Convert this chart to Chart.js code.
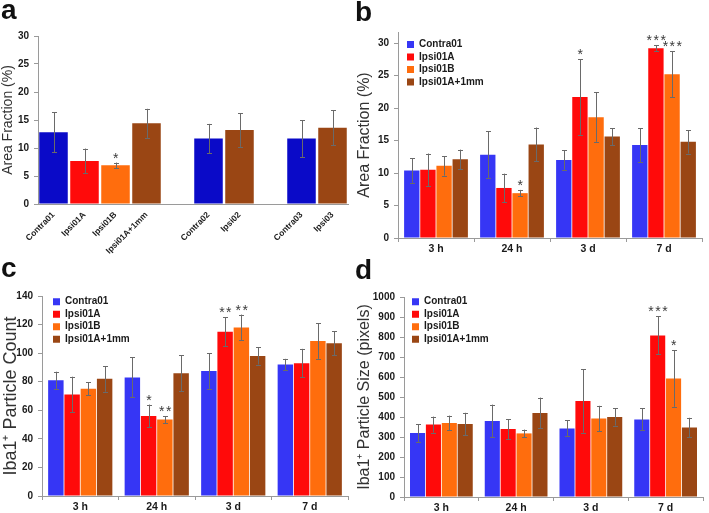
<!DOCTYPE html>
<html>
<head>
<meta charset="utf-8">
<script src="https://cdn.jsdelivr.net/npm/chart.js@4.4.1/dist/chart.umd.min.js"></script>
<style>
body { margin: 0; background: #fff; width: 709px; height: 513px; position: relative; overflow: hidden; font-family: "Liberation Sans", Arial, sans-serif; }
canvas { position: absolute; }
.letra { position: absolute; font-weight: bold; font-size: 28px; line-height: 1; color: #111; }
</style>
</head>
<body>
<canvas id="graficaA" width="355" height="255" style="left:0;top:0"></canvas>
<canvas id="graficaB" width="354" height="255" style="left:355px;top:0"></canvas>
<canvas id="graficaC" width="355" height="258" style="left:0;top:255px"></canvas>
<canvas id="graficaD" width="354" height="258" style="left:355px;top:255px"></canvas>
<div class="letra" style="left:1px;top:-4px">a</div>
<div class="letra" style="left:355px;top:-2px">b</div>
<div class="letra" style="left:1px;top:254px">c</div>
<div class="letra" style="left:355px;top:256px">d</div>
<script>
// panel a
var gruposA = ["Contra01", "Ipsi01A", "Ipsi01B", "Ipsi01A+1mm", "", "Contra02", "Ipsi02", "", "Contra03", "Ipsi03"];
var areaA = [12.8, 7.7, 6.9, 14.4, null, 11.7, 13.2, null, 11.7, 13.6];
var errA = [3.6, 2.2, 0.5, 2.6, null, 2.6, 3.0, null, 3.3, 3.1];
var estrellasA = ["", "", "*", "", "", "", "", "", "", ""];

// paneles b, c, d
var tiempos = ["3 h", "24 h", "3 d", "7 d"];
var series = ["Contra01", "Ipsi01A", "Ipsi01B", "Ipsi01A+1mm"];

var areaB = [[10.4, 12.8, 12.0, 14.3], [10.5, 7.7, 21.7, 29.2], [11.1, 6.9, 18.6, 25.2], [12.1, 14.4, 15.6, 14.8]];
var errB = [[1.9, 3.6, 1.5, 2.6], [2.5, 2.2, 5.8, 0.5], [1.5, 0.5, 3.8, 3.5], [1.5, 2.6, 1.3, 1.8]];
var estrellasB = [["", "", "", ""], ["", "", "*", "***"], ["", "*", "", "***"], ["", "", "", ""]];

var conteoC = [[81, 83, 87.5, 92], [71, 56, 115, 93], [75, 53.5, 118, 108.5], [82, 86, 98, 107]];
var errC = [[6, 14, 12.5, 4], [12.5, 8, 10, 10], [4.5, 2.5, 9, 12.5], [9, 12.5, 6, 8.5]];
var estrellasC = [["", "", "", ""], ["", "*", "**", ""], ["", "**", "**", ""], ["", "", "", ""]];

var tamanoD = [[320, 380, 343, 388], [362, 340, 480, 808], [370, 318, 393, 593], [365, 420, 400, 348]];
var errD = [[45, 82, 40, 55], [40, 50, 158, 95], [37, 19, 63, 142], [56, 77, 43, 48]];
var estrellasD = [["", "", "", ""], ["", "", "", "***"], ["", "", "", "*"], ["", "", "", ""]];

var colores = ["#3636f5", "#ff0a0a", "#ff6d0d", "#9a4614"];
var coloresA = ["#0a0ac8", "#ff0a0a", "#ff6d0d", "#9a4614", "#fff", "#0a0ac8", "#9a4614", "#fff", "#0a0ac8", "#9a4614"];

var fuente = '"Liberation Sans", Arial, sans-serif';

var barrasError = {
    id: 'barrasError',
    afterDatasetsDraw: function (chart) {
        var ctx = chart.ctx;
        var escalaY = chart.scales.y;
        chart.data.datasets.forEach(function (ds, i) {
            var meta = chart.getDatasetMeta(i);
            meta.data.forEach(function (barra, j) {
                var v = ds.data[j];
                if (v === null) return;
                var e = ds.errores[j];
                var yArriba = escalaY.getPixelForValue(v + e);
                var yAbajo = escalaY.getPixelForValue(v - e);
                var x = Math.round(barra.x) + 0.5;
                ctx.save();
                ctx.strokeStyle = '#6a6a6a';
                ctx.lineWidth = 1;
                ctx.beginPath();
                ctx.moveTo(x, yArriba);
                ctx.lineTo(x, yAbajo);
                ctx.moveTo(x - 2.5, Math.round(yArriba) + 0.5);
                ctx.lineTo(x + 2.5, Math.round(yArriba) + 0.5);
                ctx.moveTo(x - 2.5, Math.round(yAbajo) + 0.5);
                ctx.lineTo(x + 2.5, Math.round(yAbajo) + 0.5);
                ctx.stroke();
                var estrella = ds.estrellas[j];
                if (estrella) {
                    ctx.fillStyle = '#3a3a3a';
                    ctx.font = '14px ' + fuente;
                    ctx.letterSpacing = '1.5px';
                    ctx.textAlign = 'center';
                    ctx.textBaseline = 'alphabetic';
                    ctx.fillText(estrella, barra.x + 1, yArriba);
                }
                ctx.restore();
            });
        });
    }
};

// la leyenda en 'chartArea' queda arriba del todo, se baja a mano
var moverLeyenda = {
    id: 'moverLeyenda',
    afterLayout: function (chart, args, opts) {
        if (chart.legend && opts.dx !== undefined) {
            var alto = chart.legend.height;
            chart.legend.left = chart.chartArea.left + opts.dx;
            chart.legend.top = chart.chartArea.top + opts.dy;
            chart.legend.bottom = chart.legend.top + alto;
        }
    }
};

function ejes(max, paso, titulo, tamTitulo, anchoY, altoX, etiquetasRotadas) {
    return {
        x: {
            grid: { display: !etiquetasRotadas, drawOnChartArea: false, offset: true, tickLength: 4, color: '#9a9a9a' },
            border: { color: '#9a9a9a' },
            ticks: {
                autoSkip: false,
                minRotation: etiquetasRotadas ? 45 : 0,
                maxRotation: etiquetasRotadas ? 45 : 0,
                padding: etiquetasRotadas ? 2 : 1,
                color: '#1a1a1a',
                font: { family: fuente, weight: 'bold', size: etiquetasRotadas ? 8.5 : 10.5 }
            },
            afterFit: function (s) { s.height = altoX; }
        },
        y: {
            min: 0,
            max: max,
            grid: { drawOnChartArea: false, tickLength: 4, color: '#9a9a9a' },
            border: { color: '#9a9a9a' },
            ticks: {
                padding: 5,
                color: '#1a1a1a',
                font: { family: fuente, weight: 'bold', size: 10 },
                callback: function (v) { return String(v); }
            },
            afterBuildTicks: function (s) {
                var marcas = [];
                for (var v = 0; v <= max + 0.001; v += paso) marcas.push({ value: v });
                s.ticks = marcas;
            },
            title: {
                display: true,
                text: titulo,
                color: '#333',
                padding: { top: 0, bottom: 0 },
                font: { family: fuente, size: tamTitulo }
            },
            afterFit: function (s) { s.width = anchoY; }
        }
    };
}

function graficaGrupos(id, valores, errores, estrellas, max, paso, titulo, tamTitulo, relleno, anchoY, altoX, dx, dy) {
    var datasets = [];
    for (var i = 0; i < series.length; i++) {
        datasets.push({
            label: series[i],
            data: valores[i],
            errores: errores[i],
            estrellas: estrellas[i],
            backgroundColor: colores[i],
            borderWidth: 0,
            barPercentage: 0.95,
            categoryPercentage: 0.85
        });
    }
    new Chart(document.getElementById(id), {
        type: 'bar',
        data: { labels: tiempos, datasets: datasets },
        options: {
            responsive: false,
            animation: false,
            layout: { padding: relleno },
            plugins: {
                legend: {
                    display: true,
                    position: 'chartArea',
                    align: 'start',
                    labels: {
                        boxWidth: 7,
                        boxHeight: 7,
                        padding: 2.5,
                        color: '#1a1a1a',
                        font: { family: fuente, weight: 'bold', size: 10 }
                    }
                },
                tooltip: { enabled: false },
                moverLeyenda: { dx: dx, dy: dy }
            },
            scales: ejes(max, paso, titulo, tamTitulo, anchoY, altoX, false)
        },
        plugins: [barrasError, moverLeyenda]
    });
}

new Chart(document.getElementById("graficaA"), {
    type: 'bar',
    data: {
        labels: gruposA,
        datasets: [{
            label: "Area Fraction",
            data: areaA,
            errores: errA,
            estrellas: estrellasA,
            backgroundColor: coloresA,
            borderWidth: 0,
            barPercentage: 0.92,
            categoryPercentage: 1
        }]
    },
    options: {
        responsive: false,
        animation: false,
        layout: { padding: { top: 36, right: 7, left: 0, bottom: 0 } },
        plugins: { legend: { display: false }, tooltip: { enabled: false } },
        scales: ejes(30, 5, "Area Fraction (%)", 14, 38, 51, true)
    },
    plugins: [barrasError]
});

graficaGrupos("graficaB", areaB, errB, estrellasB, 31.7, 5, "Area Fraction (%)", 16,
    { top: 32, right: 7, left: 0, bottom: 0 }, 43, 17, 6.5, 5);
graficaGrupos("graficaC", conteoC, errC, estrellasC, 140, 20, "Iba1\u207A Particle Count", 18,
    { top: 41, right: 7, left: 0, bottom: 0 }, 42, 17, 8.5, -1.8);
graficaGrupos("graficaD", tamanoD, errD, estrellasD, 1000, 100, "Iba1\u207A Particle Size (pixels)", 16,
    { top: 42, right: 6, left: 0, bottom: 0 }, 49, 16, 5.5, -2.8);
</script>
</body>
</html>
